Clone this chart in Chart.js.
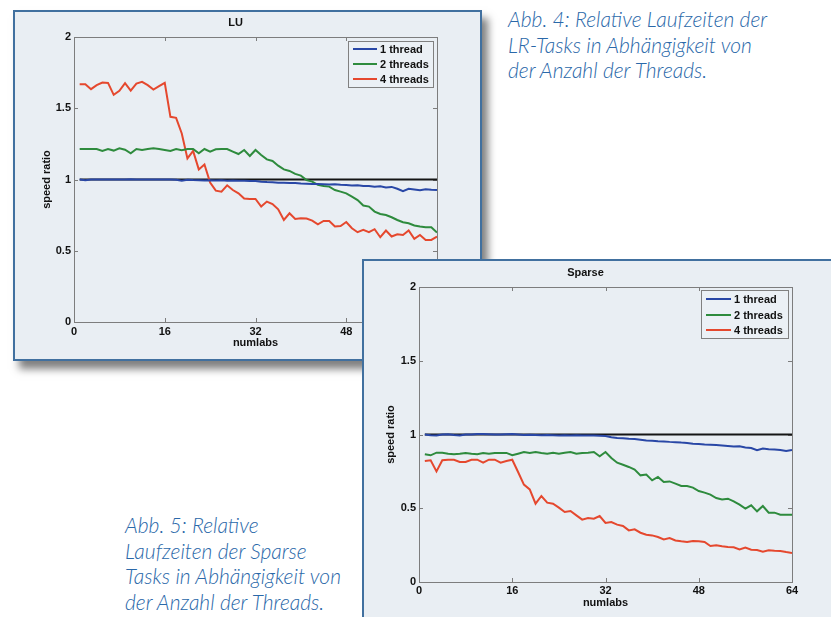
<!DOCTYPE html>
<html><head><meta charset="utf-8">
<script src="https://cdn.jsdelivr.net/npm/chart.js@4.4.0/dist/chart.umd.min.js"></script>
<style>
html,body{margin:0;padding:0;width:831px;height:617px;overflow:hidden;background:#fff;}
.panel{position:absolute;box-sizing:border-box;background:#e9eef3;border:2px solid #41709f;}
#luPanel{left:13px;top:10px;width:469px;height:351px;box-shadow:6px 8px 8px rgba(0,0,0,0.5);z-index:1;}
#spPanel{left:362px;top:259px;width:520px;height:420px;z-index:3;}
.cw{position:absolute;}
#luWrap{left:13px;top:10px;width:468px;height:350px;z-index:2;}
#spWrap{left:362px;top:259px;width:469px;height:358px;z-index:4;}
.cap{position:absolute;font-family:Lato,'Open Sans',sans-serif;font-style:italic;font-weight:300;color:#2a68a9;font-size:21px;line-height:25.5px;white-space:nowrap;}
#cap4{left:508px;top:6px;}
#cap5{left:125px;top:512px;}
</style>
</head><body>
<div class="panel" id="luPanel"></div>
<div class="cw" id="luWrap"><canvas id="lu"></canvas></div>
<div class="panel" id="spPanel"></div>
<div class="cw" id="spWrap"><canvas id="sp"></canvas></div>
<div class="cap" id="cap4">Abb. 4: Relative Laufzeiten der<br>LR-Tasks in Abhängigkeit von<br>der Anzahl der Threads.</div>
<div class="cap" id="cap5">Abb. 5: Relative<br>Laufzeiten der Sparse<br>Tasks in Abhängigkeit von<br>der Anzahl der Threads.</div>
<script>
// ---- data ----
const numlabs = [1,2,3,4,5,6,7,8,9,10,11,12,13,14,15,16,17,18,19,20,21,22,23,24,25,26,27,28,29,30,31,32,
  33,34,35,36,37,38,39,40,41,42,43,44,45,46,47,48,49,50,51,52,53,54,55,56,57,58,59,60,61,62,63,64];
const seriesNames = ['1 thread', '2 threads', '4 threads'];
const xTicks = [0, 16, 32, 48, 64];
const yTicks = [0, 0.5, 1, 1.5, 2];
const yTickLabels = ['0', '0.5', '1', '1.5', '2'];
const refX = [1, 64];
const refY = [1, 1];

const luOne = [1.0,0.995,1.0,1.0,1.0,1.0,1.0,1.0,1.0,1.002,1.0,1.0,1.0,1.0,1.0,1.0,
  1.0,0.998,0.992,0.998,0.996,0.995,0.993,0.994,0.993,0.994,0.992,0.993,0.992,0.991,0.99,0.99,
  0.985,0.982,0.98,0.978,0.978,0.976,0.975,0.972,0.97,0.968,0.969,0.967,0.965,0.966,0.963,0.962,
  0.958,0.96,0.955,0.955,0.95,0.952,0.944,0.948,0.935,0.918,0.935,0.93,0.925,0.932,0.928,0.926];
const luTwo = [1.214,1.214,1.214,1.214,1.200,1.214,1.203,1.219,1.209,1.184,1.214,1.207,1.214,1.219,1.214,1.207,
  1.200,1.214,1.205,1.214,1.214,1.184,1.214,1.196,1.212,1.214,1.214,1.196,1.179,1.207,1.165,1.207,
  1.172,1.141,1.130,1.097,1.071,1.060,1.039,1.027,0.996,0.985,0.962,0.954,0.950,0.926,0.915,0.903,
  0.880,0.856,0.817,0.810,0.775,0.758,0.751,0.735,0.716,0.700,0.693,0.677,0.670,0.665,0.665,0.628];
const luFour = [1.669,1.669,1.634,1.662,1.680,1.678,1.594,1.622,1.676,1.624,1.673,1.685,1.662,1.631,1.655,1.678,
  1.440,1.433,1.323,1.148,1.200,1.071,1.106,0.978,0.922,0.915,0.959,0.926,0.903,0.866,0.863,0.863,
  0.810,0.845,0.828,0.791,0.716,0.763,0.723,0.728,0.726,0.712,0.686,0.709,0.709,0.670,0.674,0.702,
  0.658,0.630,0.646,0.630,0.651,0.595,0.642,0.600,0.616,0.611,0.642,0.583,0.611,0.576,0.576,0.600];

const spOne = [1.0,0.995,0.993,1.0,1.002,0.997,0.993,1.0,1.0,1.003,1.003,1.002,1.0,1.0,1.002,1.003,
  1.0,0.996,0.998,0.997,0.995,0.996,0.995,0.993,0.995,0.993,0.995,0.994,0.993,0.993,0.992,0.99,
  0.982,0.977,0.975,0.972,0.97,0.965,0.96,0.958,0.955,0.953,0.95,0.948,0.945,0.943,0.938,0.935,
  0.932,0.93,0.928,0.925,0.922,0.918,0.92,0.912,0.908,0.893,0.905,0.9,0.898,0.895,0.888,0.895];
const spTwo = [0.866,0.859,0.877,0.877,0.870,0.866,0.870,0.875,0.870,0.866,0.875,0.870,0.875,0.875,0.875,0.859,
  0.870,0.881,0.875,0.881,0.875,0.870,0.877,0.870,0.877,0.881,0.870,0.875,0.877,0.881,0.852,0.881,
  0.841,0.809,0.795,0.780,0.762,0.723,0.728,0.689,0.712,0.678,0.682,0.667,0.651,0.651,0.640,0.617,
  0.606,0.592,0.569,0.560,0.565,0.547,0.524,0.497,0.520,0.479,0.515,0.470,0.470,0.456,0.456,0.456];
const spFour = [0.820,0.825,0.750,0.825,0.829,0.829,0.814,0.814,0.829,0.829,0.809,0.829,0.829,0.809,0.820,0.829,
  0.746,0.660,0.628,0.531,0.583,0.538,0.531,0.504,0.475,0.481,0.452,0.423,0.434,0.429,0.447,0.400,
  0.407,0.389,0.380,0.350,0.357,0.334,0.321,0.316,0.305,0.289,0.298,0.282,0.276,0.271,0.278,0.276,
  0.271,0.244,0.249,0.242,0.237,0.235,0.221,0.233,0.219,0.217,0.206,0.215,0.212,0.210,0.203,0.197];

// ---- styling ----
const colors = ['#2947a6', '#2e8b3d', '#e5482e'];
const FONT = '"Liberation Sans", Arial, Helvetica, sans-serif';

const mlBox = {
  id: 'mlBox',
  beforeDatasetsDraw(chart) {
    const {ctx, chartArea: a, scales: {x, y}} = chart;
    ctx.save();
    ctx.strokeStyle = '#7d7d7d';
    ctx.lineWidth = 1;
    ctx.strokeRect(Math.round(a.left) + 0.5, Math.round(a.top) + 0.5, Math.round(a.right - a.left), Math.round(a.bottom - a.top));
    ctx.beginPath();
    xTicks.forEach(v => {
      const px = Math.round(x.getPixelForValue(v)) + 0.5;
      ctx.moveTo(px, a.bottom); ctx.lineTo(px, a.bottom - 4);
      ctx.moveTo(px, a.top); ctx.lineTo(px, a.top + 4);
    });
    yTicks.forEach(v => {
      const py = Math.round(y.getPixelForValue(v)) + 0.5;
      ctx.moveTo(a.left, py); ctx.lineTo(a.left + 4, py);
      ctx.moveTo(a.right, py); ctx.lineTo(a.right - 4, py);
    });
    ctx.stroke();
    ctx.restore();
  }
};

const mlLegend = {
  id: 'mlLegend',
  afterDatasetsDraw(chart, args, o) {
    const {ctx, chartArea: a} = chart;
    const x0 = Math.round(a.right - o.right - o.width), y0 = Math.round(a.top + o.top);
    ctx.save();
    ctx.fillStyle = '#ebf0f5';
    ctx.fillRect(x0, y0, o.width, o.height);
    ctx.strokeStyle = '#808080';
    ctx.lineWidth = 1;
    ctx.strokeRect(x0 + 0.5, y0 + 0.5, o.width, o.height);
    ctx.font = 'bold 11px ' + FONT;
    ctx.textBaseline = 'middle';
    ctx.textAlign = 'left';
    chart.data.datasets.filter(d => !d.noLegend).forEach((d, i) => {
      const yy = y0 + o.rows[i];
      ctx.strokeStyle = d.borderColor;
      ctx.lineWidth = 2;
      ctx.beginPath();
      ctx.moveTo(x0 + o.lineX, yy);
      ctx.lineTo(x0 + o.lineX + o.lineLen, yy);
      ctx.stroke();
      ctx.fillStyle = '#111';
      ctx.fillText(d.label, x0 + o.textX, yy + 0.5);
    });
    ctx.restore();
  }
};

function pts(xs, ys) { return xs.map((v, i) => ({x: v, y: ys[i]})); }

function makeChart(id, title, series, lay, leg) {
  const datasets = series.map((s, i) => ({
    label: seriesNames[i], data: pts(numlabs, s), borderColor: colors[i],
    borderWidth: 2, pointRadius: 0, tension: 0, fill: false
  }));
  datasets.push({label: 'ref', noLegend: true, data: pts(refX, refY), borderColor: '#151515',
    borderWidth: 2, pointRadius: 0, tension: 0, fill: false});
  const tickFont = {family: FONT, size: 11, weight: 'bold'};
  return new Chart(document.getElementById(id), {
    type: 'line',
    data: {datasets},
    options: {
      responsive: true, maintainAspectRatio: false, animation: false, devicePixelRatio: 1,
      layout: {padding: {left: lay.pl, right: lay.pr, top: 0, bottom: lay.pb}},
      plugins: {
        legend: {display: false},
        tooltip: {enabled: false},
        title: {display: true, text: title, color: '#111', font: tickFont, padding: {top: lay.tt, bottom: lay.tb}},
        mlLegend: leg
      },
      scales: {
        x: {
          type: 'linear', min: 0, max: 64,
          afterBuildTicks: s => { s.ticks = xTicks.map(v => ({value: v})); },
          afterFit: s => { s.height = 28; },
          grid: {display: false, drawTicks: false}, border: {display: false},
          ticks: {padding: lay.xtp, color: '#111', font: tickFont, maxRotation: 0, autoSkip: false,
            callback: v => String(v)},
          title: {display: true, text: 'numlabs', color: '#111', font: tickFont, padding: {top: 0, bottom: 0}}
        },
        y: {
          type: 'linear', min: 0, max: 2,
          afterBuildTicks: s => { s.ticks = yTicks.map(v => ({value: v})); },
          afterFit: s => { s.width = 40; },
          grid: {display: false, drawTicks: false}, border: {display: false},
          ticks: {padding: 3, color: '#111', font: tickFont, autoSkip: false,
            callback: v => yTickLabels[yTicks.indexOf(v)]},
          title: {display: true, text: 'speed ratio', color: '#111', font: tickFont, padding: {top: lay.ytp, bottom: 0}}
        }
      }
    },
    plugins: [mlBox, mlLegend]
  });
}

makeChart('lu', 'LU', [luOne, luTwo, luFour],
  {pl: 21, pr: 44, pb: 10, tt: 6.7, tb: 7.1, xtp: 3, ytp: 6.4},
  {right: 4, top: 4, width: 85, height: 46, rows: [8, 23, 38], lineX: 5, lineLen: 24, textX: 32});
makeChart('sp', 'Sparse', [spOne, spTwo, spFour],
  {pl: 17, pr: 39, pb: 7, tt: 7.4, tb: 7.4, xtp: 2, ytp: 5.1},
  {right: 4, top: 3, width: 87, height: 48, rows: [9, 25, 40], lineX: 5, lineLen: 25, textX: 33});
</script>
</body></html>
